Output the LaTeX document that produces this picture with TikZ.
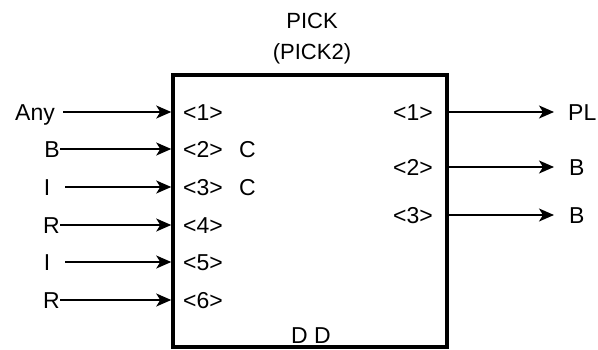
\documentclass[tikz,border=0pt]{standalone}
\usepackage{fontspec}
\setmainfont{Liberation Sans}
\usetikzlibrary{arrows.meta}
\begin{document}
\begin{tikzpicture}[x=1pt,y=-1pt,
  font=\fontsize{23}{27}\selectfont,
  arr/.style={-{Stealth[length=15pt,width=13pt,inset=4pt]}, line width=1.6pt},
  lab/.style={inner sep=0pt, text height=16.5pt, text depth=0pt},
  ttl/.style={lab, font=\fontsize{22}{26}\selectfont, text height=15.8pt}]
\useasboundingbox (0,0) rectangle (598,349);
\node[draw, line width=3.5pt, minimum width=274pt, minimum height=272pt, inner sep=0pt] (box) at (310,211) {};
\node[ttl] (t1) at (312,21) {PICK};
\node[ttl] (t2) at (312,52) {(PICK2)};
\node[lab] (dd) at (311,335) {D D};
% inputs
\node[lab, anchor=east] (a1) at (55,112) {Any};
\node[lab, anchor=east] (a2) at (60,149) {B};
\node[lab] (a3) at (47,187) {I};
\node[lab, anchor=east] (a4) at (60,225) {R};
\node[lab] (a5) at (47,262) {I};
\node[lab, anchor=east] (a6) at (60,300) {R};
\draw[arr] ([xshift=8pt]a1.east) -- (a1.east -| box.west);
\draw[arr] (a2.east) -- (a2.east -| box.west);
\draw[arr] ([xshift=15pt]a3.east) -- (a3.east -| box.west);
\draw[arr] (a4.east) -- (a4.east -| box.west);
\draw[arr] ([xshift=15pt]a5.east) -- (a5.east -| box.west);
\draw[arr] (a6.east) -- (a6.east -| box.west);
% inner left port labels
\node[lab, anchor=west] (p1) at (183,112) {<1>};
\node[lab, anchor=west] (p2) at (183,149) {<2>};
\node[lab, anchor=west] (p3) at (183,187) {<3>};
\node[lab, anchor=west] (p4) at (183,225) {<4>};
\node[lab, anchor=west] (p5) at (183,262) {<5>};
\node[lab, anchor=west] (p6) at (183,300) {<6>};
\node[lab, anchor=west] (c2) at (239,149) {C};
\node[lab, anchor=west] (c3) at (239,187) {C};
% inner right port labels
\node[lab, anchor=east] (q1) at (433,112) {<1>};
\node[lab, anchor=east] (q2) at (433,167) {<2>};
\node[lab, anchor=east] (q3) at (433,215) {<3>};
% outputs
\node[lab, anchor=west] (o1) at (568,112) {PL};
\node[lab, anchor=west] (o2) at (569,167) {B};
\node[lab, anchor=west] (o3) at (569,215) {B};
\draw[arr] (o1.west -| box.east) -- ([xshift=-14pt]o1.west);
\draw[arr] (o2.west -| box.east) -- ([xshift=-15pt]o2.west);
\draw[arr] (o3.west -| box.east) -- ([xshift=-15pt]o3.west);
\end{tikzpicture}
\end{document}
